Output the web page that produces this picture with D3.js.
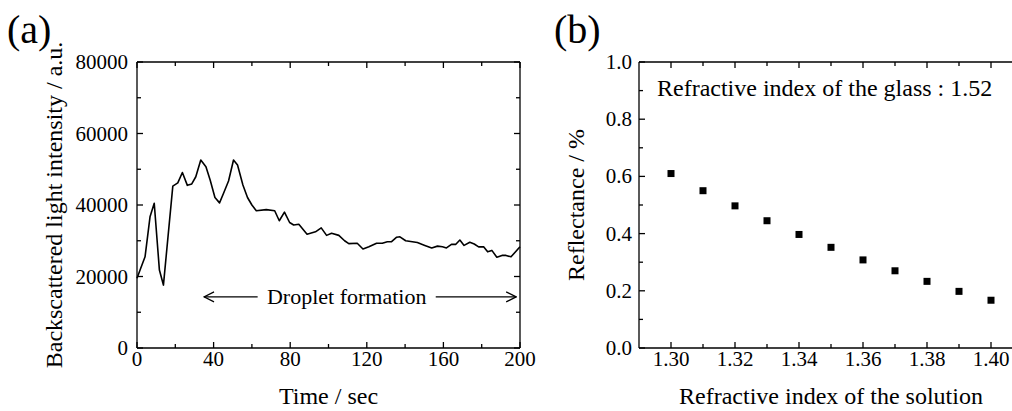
<!DOCTYPE html>
<html>
<head>
<meta charset="utf-8">
<script src="https://cdn.jsdelivr.net/npm/d3@7.9.0/dist/d3.min.js"></script>
<style>
  body { margin: 0; background: #fff; overflow: hidden; }
  svg { font-family: "Liberation Serif", "Times New Roman", serif; }
  text { fill: #000; }
</style>
</head>
<body>
<svg id="chart" width="1012" height="411"></svg>
<script>
// Panel (a): backscattered intensity vs time
const timeSec = [0, 1.6, 4.2, 6.8, 9, 11.7, 13.8, 18.7, 21.3, 23.7, 26.3, 28.6, 30.7, 33.3, 36, 38.2,
  40.7, 43.1, 45.2, 47.8, 50.4, 52.5, 55.3, 57.7, 60, 62.3, 67.5, 71.9, 74.3, 77, 79.7, 81.8,
  84.5, 88.8, 93.2, 96.2, 99, 101.6, 105.4, 108.4, 110.6, 115, 118, 121.1, 125.1, 128.1,
  130.7, 132.8, 135.6, 137.3, 140.3, 146.4, 150.3, 153.9, 156.9, 159.5, 161.6, 164.2, 166.5,
  168.6, 170.8, 173.8, 176.1, 178.4, 181, 183.1, 185.3, 187.9, 190.6, 192.7, 195.3, 200];
const intensity = [19500, 21800, 25500, 36700, 40500, 21800, 17600, 45300, 46200, 49100, 45500, 45900, 47900, 52600, 50700, 47000,
  42100, 40600, 43300, 46700, 52600, 51200, 45600, 42100, 40000, 38400, 38700, 38400, 35600, 38000, 35100, 34400,
  34600, 31800, 32500, 33600, 31500, 32100, 31500, 30000, 29200, 29300, 27700, 28300, 29300, 29300,
  29700, 29700, 31000, 31100, 30000, 29500, 28700, 28000, 28500, 28300, 28000, 29000, 29000,
  30200, 28700, 29600, 29100, 28300, 28300, 26900, 27300, 25400, 25900, 25900, 25500, 28300];
const timeTicks = [0, 40, 80, 120, 160, 200];
const intensityTicks = [0, 20000, 40000, 60000, 80000];

// Panel (b): reflectance vs refractive index
const solutionIndex = [1.30, 1.31, 1.32, 1.33, 1.34, 1.35, 1.36, 1.37, 1.38, 1.39, 1.40];
const reflectance = [0.61, 0.55, 0.497, 0.445, 0.397, 0.352, 0.308, 0.27, 0.233, 0.198, 0.167];
const indexTicks = [1.30, 1.32, 1.34, 1.36, 1.38, 1.40];
const reflTicks = [0, 0.2, 0.4, 0.6, 0.8, 1.0];

const svg = d3.select('#chart');
const plotTop = 62, plotBottom = 348;
const tickFont = 21, titleFont = 24;

// box with inward ticks on all four sides
function frame(g, x, y, xMajor, xMinor, yMajor, yMinor) {
  const [x0, x1] = x.range();
  const [y0, y1] = y.range();
  g.append('line').attr('x1', x0).attr('x2', x1).attr('y1', y0).attr('y2', y0);
  g.append('line').attr('x1', x0).attr('x2', x1).attr('y1', y1).attr('y2', y1);
  g.append('line').attr('x1', x0).attr('x2', x0).attr('y1', y0).attr('y2', y1);
  g.append('line').attr('x1', x1).attr('x2', x1).attr('y1', y0).attr('y2', y1);
  const tk = (v, len) => {
    g.append('line').attr('x1', x(v)).attr('x2', x(v)).attr('y1', y0).attr('y2', y0 - len);
    g.append('line').attr('x1', x(v)).attr('x2', x(v)).attr('y1', y1).attr('y2', y1 + len);
  };
  xMajor.forEach(v => tk(v, 6));
  xMinor.forEach(v => tk(v, 4));
  const tky = (v, len) => {
    g.append('line').attr('x1', x0).attr('x2', x0 + len).attr('y1', y(v)).attr('y2', y(v));
    g.append('line').attr('x1', x1).attr('x2', x1 - len).attr('y1', y(v)).attr('y2', y(v));
  };
  yMajor.forEach(v => tky(v, 6));
  yMinor.forEach(v => tky(v, 4));
  g.selectAll('line').attr('stroke', '#000').attr('stroke-width', 1.3);
}

// ---------- panel (a) ----------
const xa = d3.scaleLinear().domain([0, 200]).range([137, 520]);
const ya = d3.scaleLinear().domain([0, 80000]).range([plotBottom, plotTop]);
const ga = svg.append('g');
frame(ga.append('g'), xa, ya, timeTicks, [20, 60, 100, 140, 180], intensityTicks,
  [10000, 30000, 50000, 70000]);

ga.append('path')
  .datum(d3.zip(timeSec, intensity))
  .attr('fill', 'none').attr('stroke', '#000').attr('stroke-width', 1.6)
  .attr('stroke-linejoin', 'round')
  .attr('d', d3.line().x(d => xa(d[0])).y(d => ya(d[1])));

ga.selectAll('.xl').data(timeTicks).join('text')
  .attr('x', d => xa(d)).attr('y', 366).attr('text-anchor', 'middle')
  .attr('font-size', tickFont).text(d => d);
ga.selectAll('.yl').data(intensityTicks).join('text')
  .attr('x', 128).attr('y', d => ya(d) + 7).attr('text-anchor', 'end')
  .attr('font-size', tickFont).text(d => d);
ga.append('text').attr('x', xa(100)).attr('y', 404).attr('text-anchor', 'middle')
  .attr('font-size', titleFont).text('Time / sec');
ga.append('text').attr('transform', `translate(62,${(plotTop + plotBottom) / 2}) rotate(-90)`)
  .attr('text-anchor', 'middle').attr('font-size', titleFont)
  .text('Backscattered light intensity / a.u.');
svg.append('text').attr('x', 7).attr('y', 43).attr('font-size', 40).text('(a)');

// droplet formation annotation
svg.append('defs').append('marker').attr('id', 'arr')
  .attr('viewBox', '0 0 12 12').attr('refX', 11).attr('refY', 6)
  .attr('markerWidth', 12).attr('markerHeight', 12).attr('markerUnits', 'userSpaceOnUse')
  .attr('orient', 'auto-start-reverse')
  .append('path').attr('d', 'M1,1 L11,6 L1,11').attr('fill', 'none')
  .attr('stroke', '#000').attr('stroke-width', 1.2);
const arrowY = ya(14300);
ga.append('line').attr('x1', xa(35)).attr('x2', xa(63)).attr('y1', arrowY).attr('y2', arrowY)
  .attr('stroke', '#000').attr('stroke-width', 1.2).attr('marker-start', 'url(#arr)');
ga.append('line').attr('x1', xa(156)).attr('x2', xa(198)).attr('y1', arrowY).attr('y2', arrowY)
  .attr('stroke', '#000').attr('stroke-width', 1.2).attr('marker-end', 'url(#arr)');
ga.append('text').attr('x', xa(109.5)).attr('y', arrowY + 7).attr('text-anchor', 'middle')
  .attr('font-size', 22).text('Droplet formation');

// ---------- panel (b) ----------
const xb = d3.scaleLinear().domain([1.29, 1.42]).range([639, 1055]);
const yb = d3.scaleLinear().domain([0, 1]).range([plotBottom, plotTop]);
const gb = svg.append('g');
frame(gb.append('g'), xb, yb, indexTicks, [1.31, 1.33, 1.35, 1.37, 1.39, 1.41], reflTicks,
  [0.1, 0.3, 0.5, 0.7, 0.9]);

gb.selectAll('rect.pt').data(d3.zip(solutionIndex, reflectance)).join('rect')
  .attr('x', d => xb(d[0]) - 3.5).attr('y', d => yb(d[1]) - 3.5)
  .attr('width', 7).attr('height', 7).attr('fill', '#000');

gb.selectAll('.xl').data(indexTicks).join('text')
  .attr('x', d => xb(d)).attr('y', 366).attr('text-anchor', 'middle')
  .attr('font-size', tickFont).text(d => d.toFixed(2));
gb.selectAll('.yl').data(reflTicks).join('text')
  .attr('x', 632).attr('y', d => yb(d) + 7).attr('text-anchor', 'end')
  .attr('font-size', tickFont).text(d => d.toFixed(1));
gb.append('text').attr('x', xb(1.35)).attr('y', 404).attr('text-anchor', 'middle')
  .attr('font-size', titleFont).text('Refractive index of the solution');
gb.append('text').attr('transform', `translate(584,${(plotTop + plotBottom) / 2}) rotate(-90)`)
  .attr('text-anchor', 'middle').attr('font-size', titleFont).text('Reflectance / %');
gb.append('text').attr('x', 657).attr('y', 96).attr('font-size', titleFont)
  .text('Refractive index of the glass : 1.52');
svg.append('text').attr('x', 554).attr('y', 43).attr('font-size', 40).text('(b)');
</script>
</body>
</html>
